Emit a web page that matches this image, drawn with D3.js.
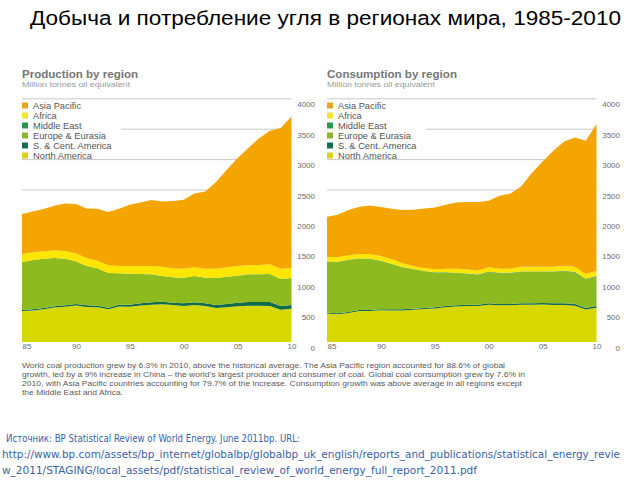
<!DOCTYPE html>
<html><head><meta charset="utf-8">
<script src="https://cdn.jsdelivr.net/npm/d3@7/dist/d3.min.js"></script>
<style>html,body{margin:0;padding:0;background:#fff;} svg{display:block;}</style>
</head><body>
<script>
// ---- data ----
const years = [1985,1986,1987,1988,1989,1990,1991,1992,1993,1994,1995,1996,1997,1998,1999,2000,2001,2002,2003,2004,2005,2006,2007,2008,2009,2010];
const regions = ["North America","S. & Cent. America","Europe & Eurasia","Middle East","Africa","Asia Pacific"];
const yTicks = [0,500,1000,1500,2000,2500,3000,3500,4000];
const xTicks = [1985,1990,1995,2000,2005,2010];
const xTickLabels = ["85","90","95","00","05","10"];

// Production (Million tonnes oil equivalent)
const prodNorthAmerica = [509,519,540,567,580,600,577,571,537,584,581,600,613,621,607,593,608,592,559,570,589,598,596,593,532,547];
const prodSCAmerica    = [17,18,19,20,23,25,26,27,28,30,33,36,40,42,40,43,45,44,50,55,58,60,62,65,60,62];
const prodEurope       = [789,811,811,794,767,701,646,613,569,515,509,482,459,422,416,421,432,421,443,449,443,454,454,460,443,443];
const prodMiddleEast   = [1,1,1,1,1,1,1,1,1,1,1,1,1,1,1,1,1,1,1,1,1,1,1,1,1,1];
const prodAfrica       = [132,126,120,126,126,132,126,126,126,120,126,131,137,153,148,148,142,148,153,153,159,148,154,159,170,164];
const prodAsiaPacific  = [656,673,695,733,782,809,821,854,876,942,1007,1046,1084,1073,1106,1134,1216,1271,1424,1605,1775,1928,2086,2196,2312,2493];

// Consumption (Million tonnes oil equivalent)
const consNorthAmerica = [469,458,479,511,510,521,520,520,530,541,551,572,582,593,593,614,603,603,613,612,617,610,609,597,534,564];
const consSCAmerica    = [14,14,15,15,16,16,17,17,18,18,19,20,21,21,21,22,22,22,23,24,25,26,27,28,25,28];
const consEurope       = [838,844,855,845,839,795,746,691,647,603,571,549,532,505,488,516,505,505,516,516,510,516,526,516,472,483];
const consMiddleEast   = [3,3,4,4,4,4,4,5,5,5,6,6,6,6,7,7,7,7,7,8,8,8,9,9,9,9];
const consAfrica       = [80,74,73,73,79,79,73,61,50,50,48,59,65,70,64,69,69,69,80,79,79,79,79,89,79,89];
const consAsiaPacific  = [656,700,744,776,798,804,832,876,925,980,1018,1051,1090,1106,1128,1095,1199,1232,1320,1539,1731,1906,2049,2125,2191,2411];

const legendOrder = ["Asia Pacific","Africa","Middle East","Europe & Eurasia","S. & Cent. America","North America"];
const colors = {
  "North America":"#d6d800",
  "S. & Cent. America":"#0f6b4b",
  "Europe & Eurasia":"#8cba1f",
  "Middle East":"#22994f",
  "Africa":"#ffe600",
  "Asia Pacific":"#f5a500"
};
const legendColors = {
  "North America":"#d9d21e",
  "S. & Cent. America":"#11704f",
  "Europe & Eurasia":"#8db430",
  "Middle East":"#2a9950",
  "Africa":"#f8e233",
  "Asia Pacific":"#eba323"
};

const paragraph = [
  "World coal production grew by 6.3% in 2010, above the historical average. The Asia Pacific region accounted for 88.6% of global",
  "growth, led by a 9% increase in China \u2013 the world\u2019s largest producer and consumer of coal. Global coal consumption grew by 7.6% in",
  "2010, with Asia Pacific countries accounting for 79.7% of the increase. Consumption growth was above average in all regions except",
  "the Middle East and Africa."
];
const source = [
  "\u0418\u0441\u0442\u043e\u0447\u043d\u0438\u043a: BP Statistical Review of World Energy. June 2011bp. URL:",
  "http://www.bp.com/assets/bp_internet/globalbp/globalbp_uk_english/reports_and_publications/statistical_energy_revie",
  "w_2011/STAGING/local_assets/pdf/statistical_review_of_world_energy_full_report_2011.pdf"
];

function buildRows(arrs){
  return years.map((yr,i)=>{
    const r = {year: yr};
    regions.forEach((k,j)=>{ r[k] = arrs[j][i]; });
    return r;
  });
}
const prodRows = buildRows([prodNorthAmerica,prodSCAmerica,prodEurope,prodMiddleEast,prodAfrica,prodAsiaPacific]);
const consRows = buildRows([consNorthAmerica,consSCAmerica,consEurope,consMiddleEast,consAfrica,consAsiaPacific]);

// ---- drawing ----
const svg = d3.select("body").append("svg").attr("width",640).attr("height",480);
svg.append("rect").attr("width",640).attr("height",480).attr("fill","#fff");

svg.append("text").attr("x",30).attr("y",25)
  .attr("font-family","Liberation Sans, Arial, sans-serif").attr("font-size",20)
  .attr("fill","#000").attr("textLength",591).attr("lengthAdjust","spacingAndGlyphs")
  .text("\u0414\u043e\u0431\u044b\u0447\u0430 \u0438 \u043f\u043e\u0442\u0440\u0435\u0431\u043b\u0435\u043d\u0438\u0435 \u0443\u0433\u043b\u044f \u0432 \u0440\u0435\u0433\u0438\u043e\u043d\u0430\u0445 \u043c\u0438\u0440\u0430, 1985-2010");

function drawPanel(x0, title, titleW, rows){
  const x1 = x0 + 269.5;
  const x = d3.scaleLinear().domain([1985,2010]).range([x0, x1]);
  const y = d3.scaleLinear().domain([0,4000]).range([342, 98.8]);
  const g = svg.append("g");

  g.append("text").attr("x",x0).attr("y",78)
    .attr("font-family","Liberation Sans, Arial, sans-serif").attr("font-weight","bold")
    .attr("font-size",11).attr("fill","#767676")
    .attr("textLength",titleW).attr("lengthAdjust","spacingAndGlyphs").text(title);
  g.append("text").attr("x",x0).attr("y",87)
    .attr("font-family","Liberation Sans, Arial, sans-serif")
    .attr("font-size",7.5).attr("fill","#9a9a9a")
    .attr("textLength",108).attr("lengthAdjust","spacingAndGlyphs").text("Million tonnes oil equivalent");

  // gridlines
  g.selectAll("line.grid").data(yTicks.filter(v=>v>0)).join("line")
    .attr("x1", v => v===3500 ? x0+99 : x0).attr("x2", x1)
    .attr("y1", v => y(v)).attr("y2", v => y(v))
    .attr("stroke","#c9c9c9").attr("stroke-width",1);

  // stacked areas
  const stack = d3.stack().keys(regions);
  const series = stack(rows);
  const area = d3.area().x(d=>x(d.data.year)).y0(d=>y(d[0])).y1(d=>y(d[1]));
  g.selectAll("path.layer").data(series).join("path")
    .attr("d", area).attr("fill", d=>colors[d.key]);

  // y axis labels
  const yAxis = d3.axisRight(y).tickValues(yTicks).tickSize(0).tickPadding(0).tickFormat(d3.format("d"));
  const ya = g.append("g").attr("transform",`translate(${x1+23.5},0)`).call(yAxis);
  ya.select(".domain").remove();
  ya.selectAll("text").attr("text-anchor","end").attr("dy","8").attr("x",0)
    .attr("font-family","Liberation Sans, Arial, sans-serif").attr("font-size",8).attr("fill","#6b6b6b");

  // x axis labels
  const xAxis = d3.axisBottom(x).tickValues(xTicks).tickSize(0).tickPadding(0)
    .tickFormat((d,i)=>xTickLabels[i]);
  const xa = g.append("g").attr("transform","translate(0,342)").call(xAxis);
  xa.select(".domain").remove();
  xa.selectAll("text").attr("dy","7").attr("y",0)
    .attr("font-family","Liberation Sans, Arial, sans-serif").attr("font-size",8).attr("fill","#6b6b6b")
    .attr("text-anchor",(d,i)=> i===0 ? "start" : "middle");

  // legend
  const lg = g.selectAll("g.leg").data(legendOrder).join("g")
    .attr("transform",(d,i)=>`translate(${x0},${105.5+i*10})`);
  lg.append("rect").attr("x",0).attr("y",-3).attr("width",6).attr("height",6).attr("fill",d=>legendColors[d]);
  lg.append("text").attr("x",11).attr("y",3.3)
    .attr("font-family","Liberation Sans, Arial, sans-serif").attr("font-size",9.3).attr("fill","#555")
    .text(d=>d);
}

drawPanel(22, "Production by region", 116, prodRows);
drawPanel(327, "Consumption by region", 130, consRows);

// paragraph
const paraW = [483, 503, 500, 101];
svg.append("g").selectAll("text").data(paragraph).join("text")
  .attr("x",22).attr("y",(d,i)=>368+i*9)
  .attr("font-family","Liberation Sans, Arial, sans-serif").attr("font-size",7.4).attr("fill","#5a5a5a")
  .attr("textLength",(d,i)=>paraW[i]).attr("lengthAdjust","spacingAndGlyphs")
  .text(d=>d);

// source
const srcX = [6, 2, 2];
const srcW = [294, 618, 475];
svg.append("g").selectAll("text").data(source).join("text")
  .attr("x",(d,i)=>srcX[i]).attr("y",(d,i)=>442+i*16)
  .attr("font-family","DejaVu Sans Condensed, Open Sans, sans-serif").attr("font-stretch","condensed")
  .attr("font-size",11).attr("fill","#3b62a6")
  .attr("textLength",(d,i)=>srcW[i]).attr("lengthAdjust","spacingAndGlyphs")
  .text(d=>d);
</script>
</body></html>
